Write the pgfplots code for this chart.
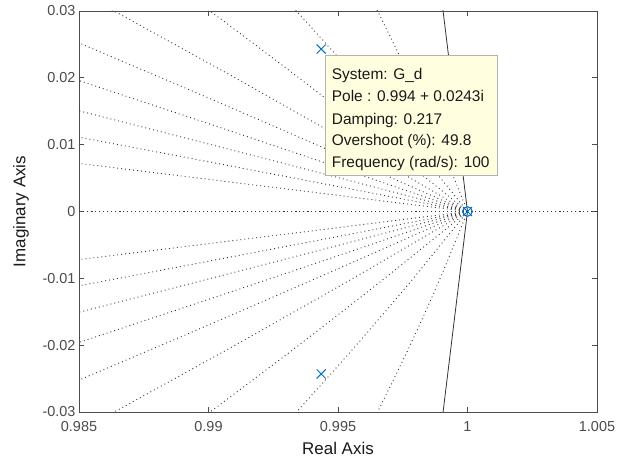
\documentclass[border=0pt]{standalone}
\usepackage{fontspec}
\setmainfont{Liberation Sans}
\usepackage{pgfplots}
\pgfplotsset{compat=1.18}
\definecolor{mblue}{rgb}{0,0.447,0.741}
\definecolor{tipbg}{RGB}{255,255,224}
\definecolor{axgray}{gray}{0.3}
\pgfplotsset{zg/.style={black!80, line width=0.9bp, dash pattern=on 0.9bp off 3.1bp, smooth, mark=none}}
\begin{document}
\begin{tikzpicture}
\path[use as bounding box] (-79bp,-51bp) rectangle (548bp,412bp);
\begin{axis}[
  scale only axis, width=518bp, height=401bp,
  at={(0,0)}, anchor=south west,
  xmin=0.985, xmax=1.005, ymin=-0.03, ymax=0.03,
  xtick={0.985,0.99,0.995,1,1.005},
  xticklabels={0.985,0.99,0.995,1,1.005},
  ytick={-0.03,-0.02,-0.01,0,0.01,0.02,0.03},
  yticklabels={-0.03,-0.02,-0.01,0,0.01,0.02,0.03},
  scaled ticks=false,
  tick align=inside, xtick pos=both, ytick pos=both,
  major tick length=5bp,
  axis line style={axgray, line width=0.7bp},
  tick style={axgray, line width=0.7bp},
  ticklabel style={font=\fontsize{14.5}{17}\selectfont, text=black!70},
  xticklabel style={yshift=-6bp},
  xlabel={Real Axis}, ylabel={Imaginary Axis},
  label style={font=\fontsize{17}{20}\selectfont, text=black!90},
  xlabel style={at={(axis description cs:0.5,-0.0898)}, anchor=center},
  ylabel style={at={(axis description cs:-0.112,0.5)}, anchor=center},
  clip=true,
]
% damping grid lines (zeta = 0.1 ... 0.9), upper half
\addplot[zg] coordinates {(1,0) (0.9989326,0.0101057) (0.9977641,0.02019) (0.9964942,0.0302545)};
\addplot[zg] coordinates {(1,0) (0.9978773,0.0101364) (0.9956556,0.02023) (0.9933351,0.0302822)};
\addplot[zg] coordinates {(1,0) (0.9967534,0.0101431) (0.9934134,0.0202205) (0.9899802,0.030233)};
\addplot[zg] coordinates {(1,0) (0.9955046,0.0101582) (0.9909247,0.0202263) (0.9862607,0.0302026)};
\addplot[zg] coordinates {(1,0) (0.9950086,0.0085595) (0.989968,0.0170344) (0.984878,0.025423)};
\addplot[zg] coordinates {(1,0) (0.9949702,0.00666) (0.9899208,0.013252) (0.9848518,0.0197776)};
\addplot[zg] coordinates {(1,0) (0.9949595,0.0051159) (0.9899179,0.01018) (0.9848753,0.0151923)};
\addplot[zg] coordinates {(1,0) (0.9949389,0.0037808) (0.9898892,0.007523) (0.9848505,0.0112267)};
\addplot[zg] coordinates {(1,0) (0.99491,0.0024576) (0.9898398,0.0048897) (0.9847896,0.0072967)};
% lower half
\addplot[zg] coordinates {(1,0) (0.9989326,-0.0101057) (0.9977641,-0.02019) (0.9964942,-0.0302545)};
\addplot[zg] coordinates {(1,0) (0.9978773,-0.0101364) (0.9956556,-0.02023) (0.9933351,-0.0302822)};
\addplot[zg] coordinates {(1,0) (0.9967534,-0.0101431) (0.9934134,-0.0202205) (0.9899802,-0.030233)};
\addplot[zg] coordinates {(1,0) (0.9955046,-0.0101582) (0.9909247,-0.0202263) (0.9862607,-0.0302026)};
\addplot[zg] coordinates {(1,0) (0.9950086,-0.0085595) (0.989968,-0.0170344) (0.984878,-0.025423)};
\addplot[zg] coordinates {(1,0) (0.9949702,-0.00666) (0.9899208,-0.013252) (0.9848518,-0.0197776)};
\addplot[zg] coordinates {(1,0) (0.9949595,-0.0051159) (0.9899179,-0.01018) (0.9848753,-0.0151923)};
\addplot[zg] coordinates {(1,0) (0.9949389,-0.0037808) (0.9898892,-0.007523) (0.9848505,-0.0112267)};
\addplot[zg] coordinates {(1,0) (0.99491,-0.0024576) (0.9898398,-0.0048897) (0.9847896,-0.0072967)};
% real axis (zeta = 1)
\addplot[zg] coordinates {(0.985,0) (1.005,0)};
% unit circle (polygon approximation)
\addplot[black!80, line width=0.8bp, mark=none] coordinates {(0.998027,0.062791) (1,0) (0.998027,-0.062791)};
% poles and zero
\addplot[only marks, mark=x, mark size=6.4bp, mblue, line width=1bp] coordinates {(0.99435,0.0243) (0.99435,-0.0243) (1,0)};
\addplot[only marks, mark=o, mark size=4.8bp, mblue, line width=1bp] coordinates {(1,0)};
% data tip
\draw[fill=tipbg, draw=black!30, line width=0.6bp] (axis cs:0.9945,0.02342) rectangle (axis cs:1.00114,0.00546);
\begin{scope}[every node/.style={anchor=base west, inner sep=0pt, font=\fontsize{15.5}{18}\selectfont, text=black!90}]
\node at (axis cs:0.994757,0.019676) {System: G\_d};
\node at (axis cs:0.994757,0.016384) {Pole : 0.994 + 0.0243i};
\node at (axis cs:0.994757,0.013017) {Damping: 0.217};
\node at (axis cs:0.994757,0.0098) {Overshoot (\%): 49.8};
\node at (axis cs:0.994757,0.006509) {Frequency (rad/s): 100};
\end{scope}
\end{axis}
\end{tikzpicture}
\end{document}
